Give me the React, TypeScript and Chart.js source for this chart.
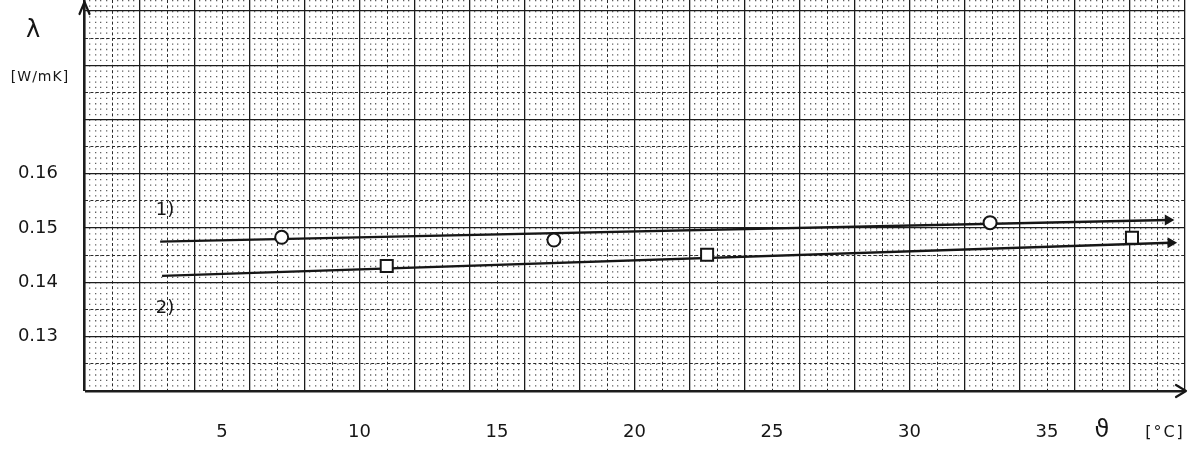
import { useEffect, useRef } from "react";
import { Chart, registerables } from "chart.js";

Chart.register(...registerables);

// ---- data ----
const circleX = [7.17, 17.07, 32.93];
const circleY = [0.1483, 0.1478, 0.151];
const squareX = [10.99, 22.64, 38.09];
const squareY = [0.143, 0.1451, 0.1482];
const line1X = [2.75, 39.4];
const line1Y = [0.1475, 0.1515];
const line2X = [2.82, 39.5];
const line2Y = [0.1412, 0.1473];
const curveNames = ["1)", "2)"];
const curveNameX = [2.93, 2.93];
const curveNameY = [0.1532, 0.1352];
const xTickLabels = ["5", "10", "15", "20", "25", "30", "35"];
const yTickLabels = ["0.13", "0.14", "0.15", "0.16"];
const xMin = 0;
const xMax = 40;
const yMin = 0.12;
const yMax = 0.192;

const FONT = "'DejaVu Sans', sans-serif";
const INK = "#161616";

const toPts = (xs: number[], ys: number[]) => xs.map((x, i) => ({ x, y: ys[i] }));

const xmm = (v: number) => Math.round(v * 5); // 1 mm = 0.2 °C
const ymm = (v: number) => Math.round(v * 1000); // 1 mm = 0.001 W/mK

function gridColor(m: number | null, showMinor: boolean) {
  if (m === null) return INK;
  if (m % 10 === 0) return "#1c1c1c";
  if (m % 5 === 0) return "#2a2a2a";
  return showMinor ? "rgba(0,0,0,0.62)" : "rgba(0,0,0,0)";
}
function gridWidth(m: number | null, zero: number) {
  if (m === null) return 1;
  if (m === zero) return 2.6;
  if (m % 10 === 0) return 1.3;
  if (m % 5 === 0) return 1;
  return 1.3;
}
function gridDash(m: number | null, period: number) {
  if (m === null) return [];
  if (m % 10 === 0) return [];
  if (m % 5 === 0) return [3, 2.4];
  return [1.3, period - 1.3];
}

const decorations = {
  id: "decorations",
  afterDraw(chart: any) {
    const { ctx, chartArea, scales } = chart;
    const xs = scales.x;
    const ys = scales.y;
    const x0 = xs.getPixelForValue(xMin);
    const y0 = ys.getPixelForValue(yMin);
    ctx.save();
    ctx.strokeStyle = INK;
    ctx.lineWidth = 2.2;
    ctx.lineCap = "round";
    ctx.lineJoin = "round";
    // y-axis arrow
    ctx.beginPath();
    ctx.moveTo(x0, chartArea.top + 2);
    ctx.lineTo(x0, 2);
    ctx.moveTo(x0 - 5, 14);
    ctx.lineTo(x0, 2);
    ctx.lineTo(x0 + 5, 14);
    ctx.stroke();
    // x-axis arrow
    ctx.beginPath();
    ctx.moveTo(chartArea.right, y0);
    ctx.lineTo(1186, y0);
    ctx.moveTo(1176, y0 - 6);
    ctx.lineTo(1186, y0);
    ctx.lineTo(1176, y0 + 6);
    ctx.stroke();

    ctx.fillStyle = INK;
    ctx.textAlign = "center";
    ctx.textBaseline = "middle";
    // curve names
    ctx.font = `18px ${FONT}`;
    curveNames.forEach((n, i) => {
      ctx.fillText(n, xs.getPixelForValue(curveNameX[i]), ys.getPixelForValue(curveNameY[i]));
    });
    // axis titles
    ctx.font = `24px ${FONT}`;
    ctx.fillText("λ", 33, 31);
    ctx.font = `14px ${FONT}`;
    (ctx as any).letterSpacing = "1px";
    ctx.fillText("[W/mK]", 40, 77);
    ctx.font = `24px ${FONT}`;
    (ctx as any).letterSpacing = "0px";
    ctx.fillText("ϑ", 1102, 431);
    ctx.font = `16px ${FONT}`;
    (ctx as any).letterSpacing = "2px";
    ctx.fillText("[°C]", 1165, 433);
    ctx.restore();
  },
};

export default function App() {
  const ref = useRef<HTMLCanvasElement | null>(null);

  useEffect(() => {
    document.body.style.margin = "0";
    document.body.style.background = "#ffffff";
    const canvas = ref.current;
    if (!canvas) return;

    const chart = new Chart(canvas, {
      type: "scatter",
      data: {
        datasets: [
          {
            label: "circles",
            data: toPts(circleX, circleY),
            pointStyle: "circle",
            pointRadius: 6.5,
            pointBorderWidth: 2,
            pointBorderColor: INK,
            pointBackgroundColor: "#ffffff",
            showLine: false,
          },
          {
            label: "squares",
            data: toPts(squareX, squareY),
            pointStyle: "rect",
            pointRadius: 8.5,
            pointBorderWidth: 2,
            pointBorderColor: INK,
            pointBackgroundColor: "#ffffff",
            showLine: false,
          },
          {
            label: "1)",
            data: toPts(line1X, line1Y),
            showLine: true,
            borderColor: INK,
            borderWidth: 2.4,
            pointRadius: [0, 4],
            pointStyle: "triangle",
            pointRotation: 90,
            pointBackgroundColor: INK,
            pointBorderColor: INK,
          },
          {
            label: "2)",
            data: toPts(line2X, line2Y),
            showLine: true,
            borderColor: INK,
            borderWidth: 2.4,
            pointRadius: [0, 4],
            pointStyle: "triangle",
            pointRotation: 90,
            pointBackgroundColor: INK,
            pointBorderColor: INK,
          },
        ],
      },
      options: {
        animation: false,
        responsive: false,
        maintainAspectRatio: false,
        layout: { autoPadding: false, padding: { left: 0, right: 4.5, top: 0, bottom: 0 } },
        plugins: {
          legend: { display: false },
          tooltip: { enabled: false },
        },
        scales: {
          x: {
            type: "linear",
            min: xMin,
            max: xMax,
            afterBuildTicks: (scale: any) => {
              const t = [];
              for (let i = 0; i <= xmm(xMax); i++) t.push({ value: i / 5 });
              scale.ticks = t;
            },
            afterFit: (scale: any) => {
              scale.height = 59;
              scale.paddingLeft = 0;
              scale.paddingRight = 0;
            },
            ticks: {
              autoSkip: false,
              maxRotation: 0,
              padding: 31,
              color: INK,
              font: { family: FONT, size: 18 },
              callback: (v: any) => {
                const n = Math.round(Number(v) * 5) / 5;
                const s = String(n);
                return xTickLabels.includes(s) ? s : "";
              },
            },
            grid: {
              drawTicks: false,
              tickLength: 0,
              color: (c: any) => gridColor(c.tick ? xmm(c.tick.value) : null, true),
              lineWidth: (c: any) => gridWidth(c.tick ? xmm(c.tick.value) : null, 0),
            },
            border: {
              display: false,
              dash: (c: any) => gridDash(c.tick ? xmm(c.tick.value) : null, 5.425),
            },
          },
          y: {
            type: "linear",
            min: yMin,
            max: yMax,
            afterBuildTicks: (scale: any) => {
              const t = [];
              for (let i = ymm(yMin); i <= ymm(yMax); i++) t.push({ value: i / 1000 });
              scale.ticks = t;
            },
            afterFit: (scale: any) => {
              scale.width = 84.5;
              scale.paddingTop = 0;
              scale.paddingBottom = 0;
            },
            ticks: {
              autoSkip: false,
              padding: 26.5,
              color: INK,
              font: { family: FONT, size: 18 },
              callback: (v: any) => {
                const s = Number(v).toFixed(3);
                const hit = yTickLabels.find((l) => parseFloat(l).toFixed(3) === s);
                return hit ?? "";
              },
            },
            grid: {
              drawTicks: false,
              tickLength: 0,
              color: (c: any) => gridColor(c.tick ? ymm(c.tick.value) : null, false),
              lineWidth: (c: any) => gridWidth(c.tick ? ymm(c.tick.value) : null, ymm(yMin)),
            },
            border: {
              display: false,
              dash: (c: any) => gridDash(c.tick ? ymm(c.tick.value) : null, 5.5),
            },
          },
        },
      },
      plugins: [decorations],
    } as any);

    return () => chart.destroy();
  }, []);

  return (
    <div style={{ width: 1189, height: 450, overflow: "hidden" }}>
      <canvas ref={ref} width={1189} height={450} style={{ display: "block" }} />
    </div>
  );
}
